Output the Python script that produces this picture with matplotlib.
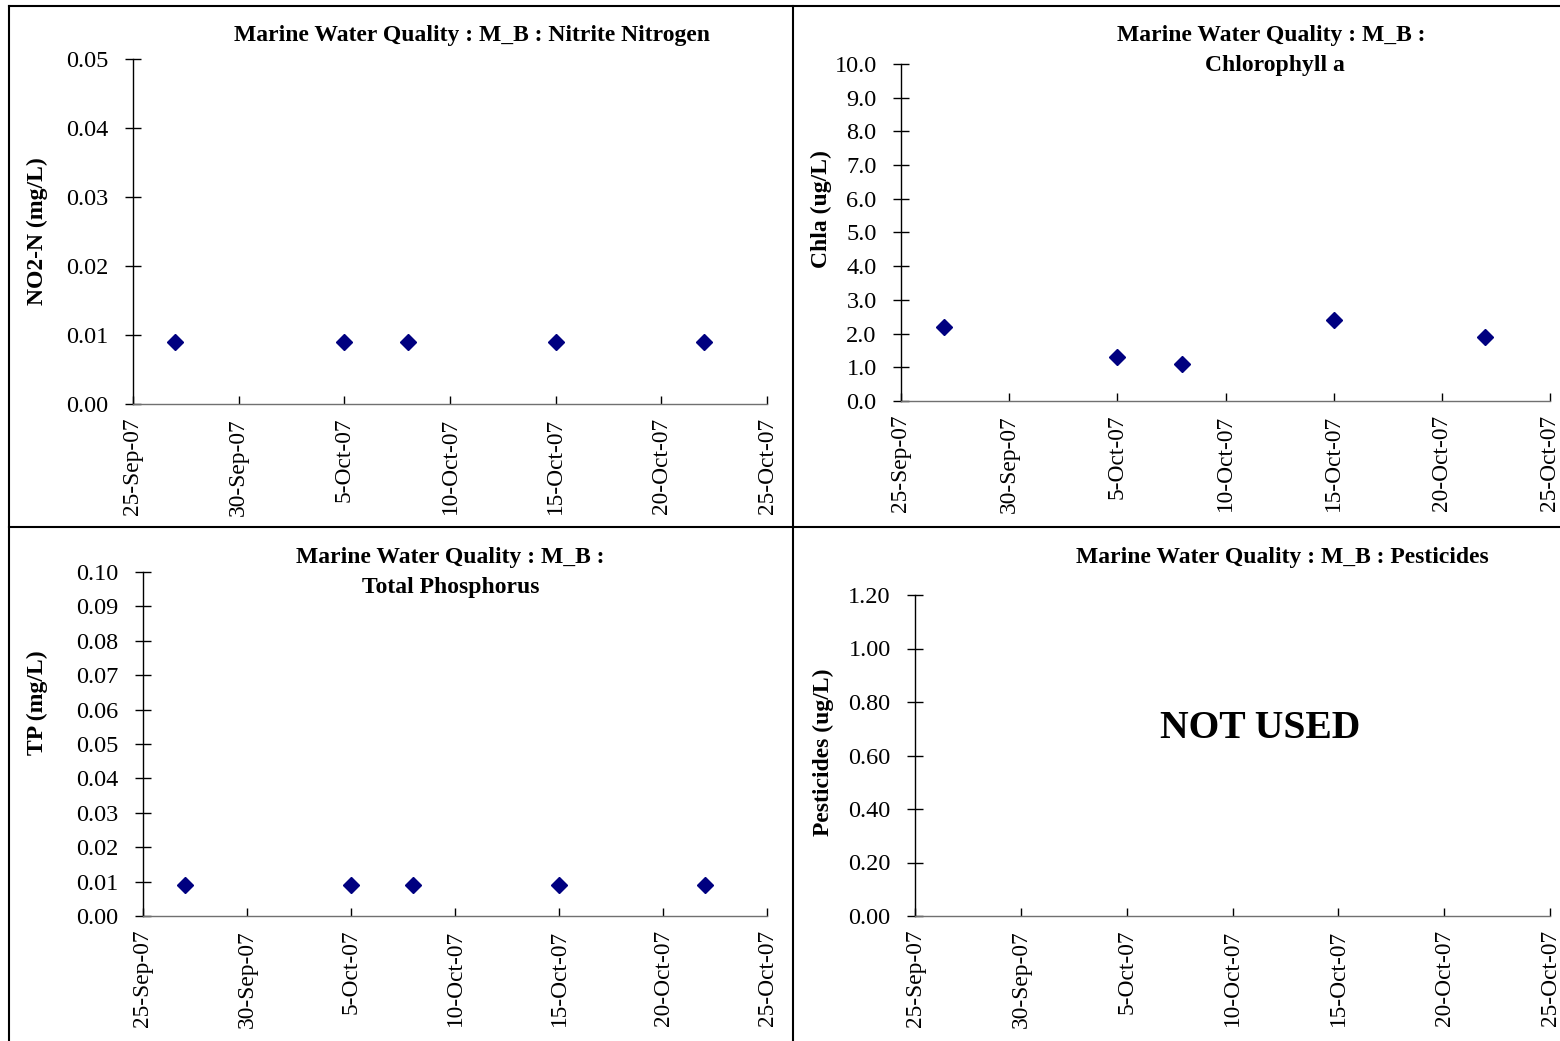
import matplotlib
matplotlib.use("Agg")
import matplotlib.pyplot as plt
import matplotlib.dates as mdates
from matplotlib.lines import Line2D
from datetime import datetime, timedelta

plt.rcParams['font.family'] = ['Liberation Serif', 'DejaVu Serif']

dates = ["2007-09-27", "2007-10-05", "2007-10-08", "2007-10-15", "2007-10-22"]
no2n = [0.009, 0.009, 0.009, 0.009, 0.009]
chla = [2.2, 1.3, 1.1, 2.4, 1.9]
tp = [0.009, 0.009, 0.009, 0.009, 0.009]

x_start = "2007-09-25"
x_end = "2007-10-25"

W, H = 1560, 1041
fig = plt.figure(figsize=(W / 100, H / 100), dpi=100)

TICK_FS = 17.5
XTICK_FS = 16.8
TITLE_FS = 17
LABEL_FS = 17

def px_axes(x0, y0, x1, y1):
    return fig.add_axes([x0 / W, 1 - y1 / H, (x1 - x0) / W, (y1 - y0) / H])

dts = [datetime.strptime(d, "%Y-%m-%d") for d in dates]
xs = datetime.strptime(x_start, "%Y-%m-%d")
xe = datetime.strptime(x_end, "%Y-%m-%d")
ticks = [xs + timedelta(days=5 * i) for i in range(7)]

def setup(ax, ymax, ystep, fmt, ylabel):
    ax.set_xlim(xs, xe)
    ax.set_ylim(0, ymax)
    n = int(round(ymax / ystep))
    yt = [ystep * i for i in range(n + 1)]
    ax.set_yticks(yt)
    ax.set_yticklabels([fmt.format(v) for v in yt])
    ax.set_xticks(ticks)
    ax.xaxis.set_major_formatter(mdates.DateFormatter('%-d-%b-%y'))
    for s in ['top', 'right']:
        ax.spines[s].set_visible(False)
    ax.spines['left'].set_color('black')
    ax.spines['bottom'].set_color('#707070')
    ax.spines['left'].set_linewidth(1.0)
    ax.spines['bottom'].set_linewidth(1.0)
    ax.tick_params(axis='y', direction='inout', length=11, width=1.0, labelsize=TICK_FS, pad=12)
    ax.tick_params(axis='x', direction='in', length=6, width=1.0, color='black', labelsize=XTICK_FS,
                   labelrotation=90, pad=10)
    ax.set_ylabel(ylabel, fontsize=LABEL_FS, fontweight='bold')
    ax.patch.set_alpha(0)

MS = 8.5
MC = '#000080'

# Panel 1
ax1 = px_axes(133, 59, 767, 404)
setup(ax1, 0.05, 0.01, "{:.2f}", "NO2-N (mg/L)")
ax1.plot(dts, no2n, linestyle='none', marker='D', markersize=MS, color=MC)
ax1.yaxis.set_label_coords(-0.134, 0.501)
fig.text(472 / W, 1 - 36 / H, "Marine Water Quality : M_B : Nitrite Nitrogen",
         ha='center', va='center', fontsize=TITLE_FS, fontweight='bold')

# Panel 2
ax2 = px_axes(901, 64, 1550, 401)
setup(ax2, 10.0, 1.0, "{:.1f}", "Chla (ug/L)")
ax2.plot(dts, chla, linestyle='none', marker='D', markersize=MS, color=MC)
ax2.yaxis.set_label_coords(-0.106, 0.570)
fig.text(1271 / W, 1 - 36 / H, "Marine Water Quality : M_B :",
         ha='center', va='center', fontsize=TITLE_FS, fontweight='bold')
fig.text(1275 / W, 1 - 66 / H, "Chlorophyll a",
         ha='center', va='center', fontsize=TITLE_FS, fontweight='bold')

# Panel 3
ax3 = px_axes(143, 572, 767, 916)
setup(ax3, 0.10, 0.01, "{:.2f}", "TP (mg/L)")
ax3.plot(dts, tp, linestyle='none', marker='D', markersize=MS, color=MC)
ax3.yaxis.set_label_coords(-0.152, 0.619)
fig.text(450 / W, 1 - 557 / H, "Marine Water Quality : M_B :",
         ha='center', va='center', fontsize=TITLE_FS, fontweight='bold')
fig.text(451 / W, 1 - 587 / H, "Total Phosphorus",
         ha='center', va='center', fontsize=TITLE_FS, fontweight='bold')

# Panel 4
ax4 = px_axes(915, 595, 1550, 916)
setup(ax4, 1.20, 0.20, "{:.2f}", "Pesticides (ug/L)")
ax4.yaxis.set_label_coords(-0.128, 0.511)
fig.text(1282 / W, 1 - 558 / H, "Marine Water Quality : M_B : Pesticides",
         ha='center', va='center', fontsize=TITLE_FS, fontweight='bold')
fig.text(1260 / W, 1 - 728 / H, "NOT USED",
         ha='center', va='center', fontsize=28.5, fontweight='bold')

def fline(x0, y0, x1, y1):
    fig.add_artist(Line2D([x0 / W, x1 / W], [1 - y0 / H, 1 - y1 / H],
                          color='black', linewidth=1.5, transform=fig.transFigure))

fline(9, 6, 1560, 6)
fline(9, 6, 9, 1041)
fline(793, 6, 793, 1041)
fline(9, 527, 1560, 527)

fig.savefig("out.png", dpi=100)
